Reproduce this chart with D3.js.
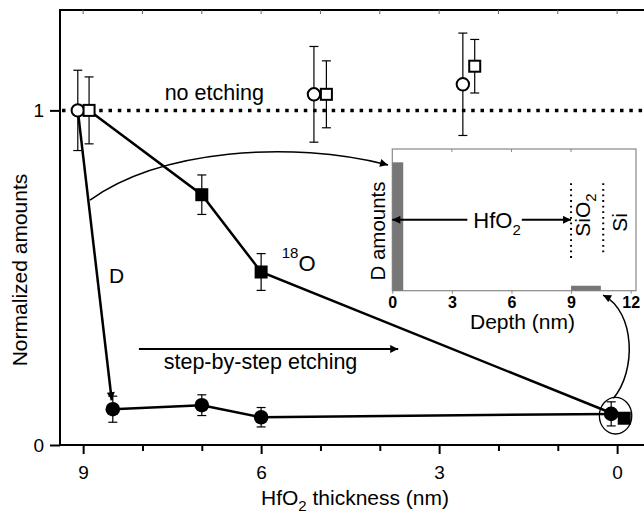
<!DOCTYPE html>
<html>
<head>
<meta charset="utf-8">
<script src="https://cdn.jsdelivr.net/npm/d3@7"></script>
<style>
body { margin: 0; background: #fff; }
svg { display: block; font-family: "Liberation Sans", Arial, sans-serif; }
</style>
</head>
<body>
<svg id="chart" width="644" height="514"></svg>
<script>
// main panel: HfO2 thickness (nm) vs normalized amounts
let thickTicks = [9, 8, 7, 6, 5, 4, 3, 2, 1, 0];
let thickLabels = [9, 6, 3, 0];
let amountTicks = [0, 1];

// no etching (open symbols), shifted a bit sideways in the figure
let refCircleX = [9.09, 5.11, 2.6];
let refCircleY = [1, 1.048, 1.078];
let refCircleErr = [0.12, 0.143, 0.153];
let refSquareX = [8.9, 4.9, 2.4];
let refSquareY = [1, 1.048, 1.132];
let refSquareErr = [0.1, 0.1, 0.08];

// D after step-by-step etching (filled circles)
let dX = [8.5, 7, 6, 0.1];
let dY = [0.107, 0.119, 0.083, 0.093];
let dErr = [0.039, 0.031, 0.029, 0.036];

// 18O after etching (filled squares)
let oX = [7, 6, -0.12];
let oY = [0.748, 0.517, 0.08];
let oErr = [0.059, 0.055, 0];

// inset: D depth profile
let depthTicks = [0, 3, 6, 9, 12];
let depthStart = [0, 9];
let depthEnd = [0.55, 10.5];
let depthAmount = [0.906, 0.035];
let interfaceDepth = [9, 10.62];
let interfaceTop = [0.758, 0.758];
let interfaceBottom = [0.205, 0.264];

function drawChart() {
    let canvas = d3.select("#chart");

    let left = 60;
    let top = 10;
    let bottom = 445;
    let right = 646;

    let x = d3.scaleLinear().domain([9.39, -0.47]).range([left, 645]);
    let y = d3.scaleLinear().domain([0, 1.3]).range([bottom, top]);

    let defs = canvas.append("defs");
    defs.append("marker")
        .attr("id", "arrow")
        .attr("viewBox", "0 0 10 10")
        .attr("refX", 10)
        .attr("refY", 5)
        .attr("markerWidth", 11)
        .attr("markerHeight", 8)
        .attr("markerUnits", "userSpaceOnUse")
        .attr("orient", "auto")
        .append("path")
        .attr("d", "M0,0 L10,5 L0,10 z")
        .attr("fill", "#000");

    // frame
    canvas.append("rect")
        .attr("x", left)
        .attr("y", top)
        .attr("width", right - left)
        .attr("height", bottom - top)
        .attr("fill", "none")
        .attr("stroke", "#000")
        .attr("stroke-width", 2);

    canvas.append("g").selectAll("line")
        .data(thickTicks)
        .enter()
        .append("line")
        .attr("x1", d => x(d))
        .attr("x2", d => x(d))
        .attr("y1", top)
        .attr("y2", top + 4)
        .attr("stroke", "#666")
        .attr("stroke-width", 1);

    // axes
    canvas.append("g")
        .attr("transform", "translate(0," + bottom + ")")
        .call(d3.axisBottom(x)
            .tickValues(thickTicks.filter(t => !thickLabels.includes(t)))
            .tickSize(6)
            .tickFormat(""))
        .call(g => g.select(".domain").remove())
        .selectAll("line").attr("stroke-width", 2);

    let xAxis = canvas.append("g")
        .attr("transform", "translate(0," + bottom + ")")
        .call(d3.axisBottom(x)
            .tickValues(thickLabels)
            .tickSize(9)
            .tickPadding(12)
            .tickFormat(d3.format("d")));
    xAxis.select(".domain").remove();
    xAxis.selectAll("line").attr("stroke-width", 2);
    xAxis.selectAll("text")
        .attr("font-size", 19)
        .attr("font-family", "Liberation Sans, Arial, sans-serif")
        .attr("fill", "#000");

    let yAxis = canvas.append("g")
        .attr("transform", "translate(" + left + ",0)")
        .call(d3.axisLeft(y)
            .tickValues(amountTicks)
            .tickSize(10)
            .tickPadding(6)
            .tickFormat(d3.format("d")));
    yAxis.select(".domain").remove();
    yAxis.selectAll("line").attr("stroke-width", 2);
    yAxis.selectAll("text")
        .attr("font-size", 19)
        .attr("font-family", "Liberation Sans, Arial, sans-serif")
        .attr("fill", "#000");

    let xLabel = canvas.append("text")
        .attr("x", 355)
        .attr("y", 505)
        .attr("text-anchor", "middle")
        .attr("font-size", 21);
    xLabel.append("tspan").text("HfO");
    xLabel.append("tspan").attr("font-size", 15).attr("dy", 6).text("2");
    xLabel.append("tspan").attr("dy", -6).text(" thickness (nm)");

    canvas.append("text")
        .attr("transform", "translate(27,270) rotate(-90)")
        .attr("text-anchor", "middle")
        .attr("font-size", 21)
        .text("Normalized amounts");

    // no etching reference level
    canvas.append("line")
        .attr("x1", left + 2)
        .attr("x2", right)
        .attr("y1", y(1))
        .attr("y2", y(1))
        .attr("stroke", "#000")
        .attr("stroke-width", 3.5)
        .attr("stroke-dasharray", "3.5,5.8");

    let line = d3.line()
        .x(d => x(d[0]))
        .y(d => y(d[1]));

    let oLine = [[refSquareX[0], refSquareY[0]]].concat(d3.zip(oX, oY));
    canvas.append("path")
        .attr("d", line(oLine))
        .attr("fill", "none")
        .attr("stroke", "#000")
        .attr("stroke-width", 2.5);

    canvas.append("path")
        .attr("d", line(d3.zip(dX, dY)))
        .attr("fill", "none")
        .attr("stroke", "#000")
        .attr("stroke-width", 2.5);

    // arrow from the unetched D point down to the first etching step
    let ax0 = x(refCircleX[0]), ay0 = y(refCircleY[0]);
    let ax1 = x(dX[0]), ay1 = y(dY[0]);
    let len = Math.hypot(ax1 - ax0, ay1 - ay0);
    canvas.append("line")
        .attr("x1", ax0)
        .attr("y1", ay0)
        .attr("x2", ax1 - (ax1 - ax0) / len * 9)
        .attr("y2", ay1 - (ay1 - ay0) / len * 9)
        .attr("stroke", "#000")
        .attr("stroke-width", 2.5)
        .attr("marker-end", "url(#arrow)");

    // error bars
    function errorBars(xs, ys, es) {
        let g = canvas.append("g")
            .attr("stroke", "#000")
            .attr("stroke-width", 1.2);
        let pts = d3.zip(xs, ys, es).filter(d => d[2] > 0);
        g.selectAll(".v").data(pts).enter().append("line")
            .attr("x1", d => x(d[0])).attr("x2", d => x(d[0]))
            .attr("y1", d => y(d[1] - d[2])).attr("y2", d => y(d[1] + d[2]));
        g.selectAll(".t").data(pts).enter().append("line")
            .attr("x1", d => x(d[0]) - 4.5).attr("x2", d => x(d[0]) + 4.5)
            .attr("y1", d => y(d[1] + d[2])).attr("y2", d => y(d[1] + d[2]));
        g.selectAll(".b").data(pts).enter().append("line")
            .attr("x1", d => x(d[0]) - 4.5).attr("x2", d => x(d[0]) + 4.5)
            .attr("y1", d => y(d[1] - d[2])).attr("y2", d => y(d[1] - d[2]));
    }
    errorBars(refCircleX, refCircleY, refCircleErr);
    errorBars(refSquareX, refSquareY, refSquareErr);
    errorBars(dX, dY, dErr);
    errorBars(oX, oY, oErr);

    // symbols
    canvas.append("g").selectAll("circle")
        .data(d3.zip(dX, dY))
        .enter()
        .append("circle")
        .attr("cx", d => x(d[0]))
        .attr("cy", d => y(d[1]))
        .attr("r", 7.3)
        .attr("fill", "#000");

    canvas.append("g").selectAll("rect")
        .data(d3.zip(oX, oY))
        .enter()
        .append("rect")
        .attr("x", d => x(d[0]) - 6.5)
        .attr("y", d => y(d[1]) - 6.5)
        .attr("width", 13)
        .attr("height", 13)
        .attr("fill", "#000");

    canvas.append("g").selectAll("circle")
        .data(d3.zip(refCircleX, refCircleY))
        .enter()
        .append("circle")
        .attr("cx", d => x(d[0]))
        .attr("cy", d => y(d[1]))
        .attr("r", 6.2)
        .attr("fill", "#fff")
        .attr("stroke", "#000")
        .attr("stroke-width", 2);

    canvas.append("g").selectAll("rect")
        .data(d3.zip(refSquareX, refSquareY))
        .enter()
        .append("rect")
        .attr("x", d => x(d[0]) - 5.5)
        .attr("y", d => y(d[1]) - 5.5)
        .attr("width", 11)
        .attr("height", 11)
        .attr("fill", "#fff")
        .attr("stroke", "#000")
        .attr("stroke-width", 2);

    // labels
    canvas.append("text")
        .attr("x", x(6.79))
        .attr("y", y(1.031))
        .attr("text-anchor", "middle")
        .attr("font-size", 21.5)
        .text("no etching");

    canvas.append("text")
        .attr("x", x(8.437))
        .attr("y", y(0.484))
        .attr("text-anchor", "middle")
        .attr("font-size", 21)
        .text("D");

    let oLabel = canvas.append("text")
        .attr("x", x(5.653))
        .attr("y", y(0.52))
        .attr("font-size", 22);
    oLabel.append("tspan").attr("font-size", 15).attr("dy", -13).text("18");
    oLabel.append("tspan").attr("dy", 13).text("O");

    canvas.append("line")
        .attr("x1", x(8.06))
        .attr("x2", x(3.69))
        .attr("y1", y(0.287))
        .attr("y2", y(0.287))
        .attr("stroke", "#000")
        .attr("stroke-width", 2)
        .attr("marker-end", "url(#arrow)");

    canvas.append("text")
        .attr("x", x(6.01))
        .attr("y", y(0.227))
        .attr("text-anchor", "middle")
        .attr("font-size", 21.5)
        .text("step-by-step etching");

    // curve from the D drop to the inset
    let c1 = d3.path();
    c1.moveTo(x(8.884), y(0.732));
    c1.bezierCurveTo(x(7.704), y(0.882), x(5.513), y(0.912), x(3.861), y(0.837));
    canvas.append("path")
        .attr("d", c1.toString())
        .attr("fill", "none")
        .attr("stroke", "#000")
        .attr("stroke-width", 1.5)
        .attr("marker-end", "url(#arrow)");

    // ring round the fully etched points and arrow to the interface bar
    canvas.append("ellipse")
        .attr("cx", x(0.026))
        .attr("cy", y(0.0876))
        .attr("rx", 16.2)
        .attr("ry", 18.3)
        .attr("fill", "none")
        .attr("stroke", "#000")
        .attr("stroke-width", 1.3);

    let c2 = d3.path();
    c2.moveTo(x(0.063), y(0.14));
    c2.bezierCurveTo(x(-0.319), y(0.218), x(-0.319), y(0.397), x(0.237), y(0.448));
    canvas.append("path")
        .attr("d", c2.toString())
        .attr("fill", "none")
        .attr("stroke", "#000")
        .attr("stroke-width", 1.5)
        .attr("marker-end", "url(#arrow)");

    // inset
    let ix = d3.scaleLinear().domain([0, 12.27]).range([392.3, 636]);
    let iy = d3.scaleLinear().domain([0, 1]).range([290.7, 149]);

    canvas.append("rect")
        .attr("x", ix(0))
        .attr("y", iy(1))
        .attr("width", ix(12.27) - ix(0))
        .attr("height", iy(0) - iy(1))
        .attr("fill", "#fff")
        .attr("stroke", "#888")
        .attr("stroke-width", 1.2);

    canvas.append("g").selectAll("rect")
        .data(d3.zip(depthStart, depthEnd, depthAmount))
        .enter()
        .append("rect")
        .attr("x", d => ix(d[0]))
        .attr("y", d => iy(d[2]))
        .attr("width", d => ix(d[1]) - ix(d[0]))
        .attr("height", d => iy(0) - iy(d[2]))
        .attr("fill", "#777");

    canvas.append("g").selectAll("line")
        .data(depthTicks.slice(1, 4))
        .enter()
        .append("line")
        .attr("x1", d => ix(d))
        .attr("x2", d => ix(d))
        .attr("y1", iy(1))
        .attr("y2", iy(1) + 3)
        .attr("stroke", "#888");

    let iAxis = canvas.append("g")
        .attr("transform", "translate(0," + iy(0) + ")")
        .call(d3.axisBottom(ix)
            .tickValues(depthTicks)
            .tickSize(3)
            .tickPadding(3)
            .tickFormat(d3.format("d")));
    iAxis.select(".domain").remove();
    iAxis.selectAll("line").attr("stroke", "#888");
    iAxis.selectAll("text")
        .attr("font-size", 16)
        .attr("font-weight", "bold")
        .attr("font-family", "Liberation Sans, Arial, sans-serif")
        .attr("fill", "#000");

    canvas.append("text")
        .attr("x", 522.5)
        .attr("y", 328.5)
        .attr("text-anchor", "middle")
        .attr("font-size", 21)
        .text("Depth (nm)");

    canvas.append("text")
        .attr("transform", "translate(385,231) rotate(-90)")
        .attr("text-anchor", "middle")
        .attr("font-size", 20.5)
        .text("D amounts");

    canvas.append("g").selectAll("line")
        .data(d3.zip(interfaceDepth, interfaceTop, interfaceBottom))
        .enter()
        .append("line")
        .attr("x1", d => ix(d[0]))
        .attr("x2", d => ix(d[0]))
        .attr("y1", d => iy(d[1]))
        .attr("y2", d => iy(d[2]))
        .attr("stroke", "#000")
        .attr("stroke-width", 2)
        .attr("stroke-dasharray", "1.8,3.8");

    // HfO2 double arrow, broken around its label
    let hfY = iy(0.5);
    let hfLabel = canvas.append("text")
        .attr("x", ix(4.08))
        .attr("y", hfY + 8.3)
        .attr("font-size", 22);
    hfLabel.append("tspan").text("HfO");
    hfLabel.append("tspan").attr("font-size", 15).attr("dy", 7).text("2");
    let hfBox = hfLabel.node().getBBox();

    canvas.append("line")
        .attr("x1", hfBox.x - 6).attr("x2", ix(0))
        .attr("y1", hfY).attr("y2", hfY)
        .attr("stroke", "#000").attr("stroke-width", 2)
        .attr("marker-end", "url(#arrow)");
    canvas.append("line")
        .attr("x1", hfBox.x + hfBox.width + 1).attr("x2", ix(9))
        .attr("y1", hfY).attr("y2", hfY)
        .attr("stroke", "#000").attr("stroke-width", 2)
        .attr("marker-end", "url(#arrow)");

    let siO2 = canvas.append("text")
        .attr("transform", "translate(590,236.7) rotate(-90)")
        .attr("font-size", 21);
    siO2.append("tspan").text("SiO");
    siO2.append("tspan").attr("font-size", 15).attr("dy", 6).text("2");

    canvas.append("text")
        .attr("transform", "translate(626.7,231.7) rotate(-90)")
        .attr("font-size", 21)
        .text("Si");
}

drawChart();
</script>
</body>
</html>
